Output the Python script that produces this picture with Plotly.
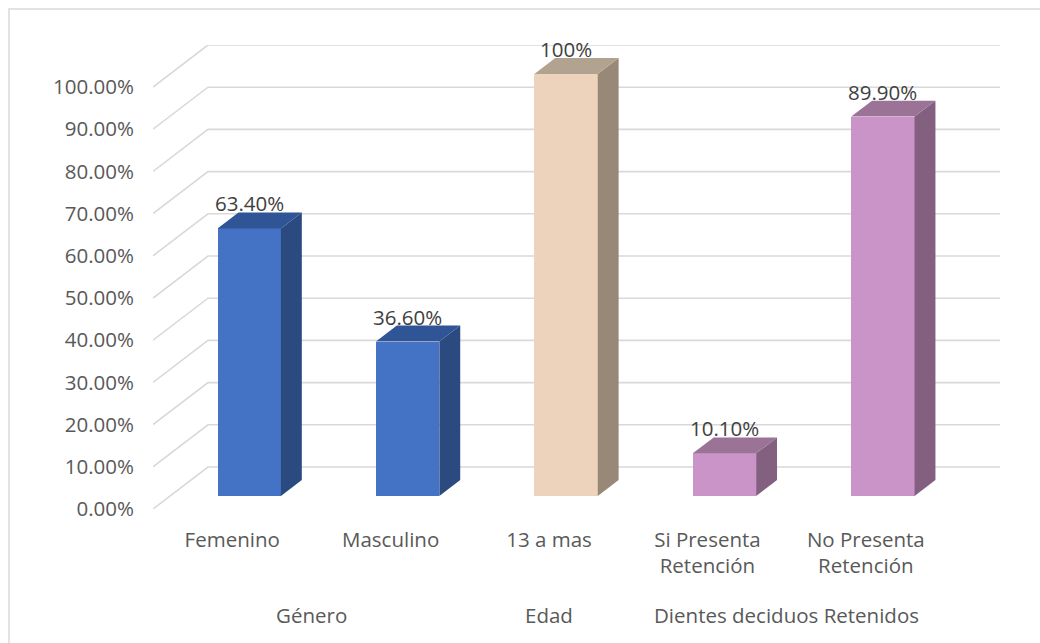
import plotly.graph_objects as go

# ---- data ----
categories = ["Femenino", "Masculino", "13 a mas", "Si Presenta<br>Retención", "No Presenta<br>Retención"]
groups = ["Género", "Edad", "Dientes deciduos Retenidos"]
group_spans = [(0, 1), (2, 2), (3, 4)]
values = [0.634, 0.366, 1.00, 0.101, 0.899]
value_labels = ["63.40%", "36.60%", "100%", "10.10%", "89.90%"]
y_ticks = [0.0, 0.1, 0.2, 0.3, 0.4, 0.5, 0.6, 0.7, 0.8, 0.9, 1.0]

# ---- styles ----
front_colors = ["#4472C4", "#4472C4", "#EDD3BC", "#CB94C8", "#CB94C8"]
top_colors = ["#2F5597", "#2F5597", "#B2A290", "#9B7397", "#9B7397"]
side_colors = ["#2B4A80", "#2B4A80", "#978878", "#835F80", "#835F80"]
FONT = "Open Sans"
FS = 20.5
TXT = "#595959"

DEPTH_X = 0.347   # full wall depth in x units
DEPTH_Y = 0.0995  # full wall depth in y units
BAR_FRONT = 0.31
BAR_BACK = 0.69
BAR_W = 0.40
x_max = len(categories) - 0.5

fig = go.Figure()

# 3D gridlines (slanted floor edge + back wall), kept below the bars
for t in y_ticks:
    fig.add_shape(
        type="path", xref="x", yref="y", layer="below",
        path=f"M {-0.5} {t} L {-0.5 + DEPTH_X} {t + DEPTH_Y} L {x_max + DEPTH_X} {t + DEPTH_Y}",
        line=dict(color="#D9D9D9", width=1.6))

fx = BAR_FRONT * DEPTH_X
fy = BAR_FRONT * DEPTH_Y
dx = (BAR_BACK - BAR_FRONT) * DEPTH_X
dy = (BAR_BACK - BAR_FRONT) * DEPTH_Y

# front faces
fig.add_trace(go.Bar(
    x=[i + fx for i in range(len(values))], y=values, base=fy, width=BAR_W,
    marker=dict(color=front_colors, line=dict(width=0)),
    hoverinfo="skip", showlegend=False))

# side and top faces
for i, v in enumerate(values):
    xl = i + fx - BAR_W / 2
    xr = i + fx + BAR_W / 2
    top = v + fy
    fig.add_trace(go.Scatter(
        x=[xr, xr + dx, xr + dx, xr, xr],
        y=[fy, fy + dy, top + dy, top, fy],
        fill="toself", fillcolor=side_colors[i], mode="lines",
        line=dict(width=0, color=side_colors[i]),
        hoverinfo="skip", showlegend=False))
    fig.add_trace(go.Scatter(
        x=[xl, xr, xr + dx, xl + dx, xl],
        y=[top, top, top + dy, top + dy, top],
        fill="toself", fillcolor=top_colors[i], mode="lines",
        line=dict(width=0, color=top_colors[i]),
        hoverinfo="skip", showlegend=False))

# data labels
for i, v in enumerate(values):
    fig.add_annotation(
        x=i + fx, y=v + fy + dy, text=value_labels[i], showarrow=False,
        xref="x", yref="y", yanchor="middle", yshift=9,
        font=dict(family=FONT, size=FS, color="#404040"))

# group labels
for g, (a, b) in zip(groups, group_spans):
    fig.add_annotation(
        x=(a + b) / 2, y=-0.228, xref="x", yref="paper", text=g,
        showarrow=False, yanchor="middle",
        font=dict(family=FONT, size=FS, color=TXT))

# chart border
fig.add_shape(type="rect", xref="paper", yref="paper",
              x0=-0.17, x1=1.2, y0=-0.5, y1=1.0776,
              line=dict(color="#D9D9D9", width=1.5), layer="below")

fig.update_layout(
    width=1040, height=643,
    margin=dict(l=153, r=40, t=45, b=134),
    paper_bgcolor="white", plot_bgcolor="white",
    bargap=0, barmode="overlay",
    xaxis=dict(range=[-0.5, x_max + DEPTH_X], tickmode="array",
               tickvals=list(range(len(categories))), ticktext=categories,
               showgrid=False, zeroline=False, showline=False, ticks="",
               ticklabelstandoff=16,
               tickfont=dict(family=FONT, size=FS, color=TXT)),
    yaxis=dict(range=[0, 1 + DEPTH_Y], tickmode="array", tickvals=y_ticks,
               tickformat=".2%", showgrid=False, zeroline=False,
               showline=False, ticks="", ticklabelstandoff=18,
               tickfont=dict(family=FONT, size=FS, color=TXT)),
)

fig.write_html("out.html")
